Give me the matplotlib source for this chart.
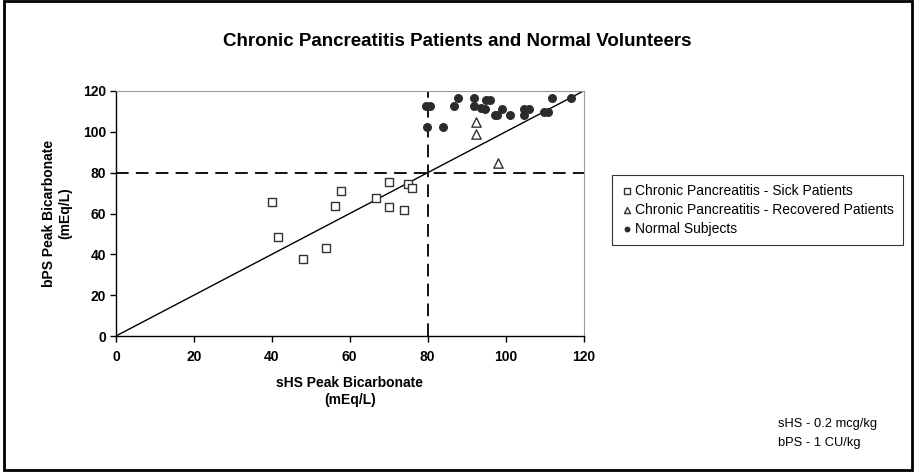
import matplotlib
matplotlib.use("Agg")
import matplotlib.pyplot as plt
from matplotlib.patches import Rectangle

plt.rcParams['font.family'] = ['Liberation Sans', 'DejaVu Sans']

# Chronic pancreatitis - sick patients
sick_x = [40.0, 41.7, 48.0, 54.0, 56.1, 57.8, 66.8, 70.0, 70.0, 73.9, 74.9, 76.0]
sick_y = [65.5, 48.6, 37.7, 42.9, 63.5, 71.2, 67.4, 75.6, 63.0, 61.6, 74.6, 72.6]

# Chronic pancreatitis - recovered patients
rec_x = [92.3, 92.3, 98.0]
rec_y = [105.0, 98.9, 84.9]

# Normal subjects
norm_x = [79.5, 80.5, 79.9, 83.9, 87.7, 86.8, 91.9, 91.9, 94.9, 95.9, 93.6, 94.7,
          97.3, 97.9, 99.0, 101.1, 104.7, 106.0, 104.7, 109.9, 111.0, 111.8, 116.7]
norm_y = [112.6, 112.6, 102.5, 102.5, 116.4, 112.6, 116.4, 112.6, 115.6, 115.6, 111.8, 111.2,
          108.2, 108.2, 111.2, 108.2, 111.2, 111.2, 108.2, 109.5, 109.5, 116.4, 116.4]

cutoff = 80
ticks = [0, 20, 40, 60, 80, 100, 120]

fig = plt.figure(figsize=(9.14, 4.74), dpi=100)
ax = fig.add_axes([116 / 914, 1 - 336 / 474, (583.5 - 116) / 914, (336 - 91) / 474])

ax.plot([0, 120], [0, 120], color='black', lw=1.0, zorder=2)
ax.plot([0, 120], [cutoff, cutoff], color='black', lw=1.3, dashes=(7, 4), zorder=2)
ax.plot([cutoff, cutoff], [0, 120], color='black', lw=1.3, dashes=(7, 4), zorder=2)

ax.scatter(sick_x, sick_y, marker='s', s=36, facecolor='white', edgecolor='#333333',
           linewidth=1.0, label='Chronic Pancreatitis - Sick Patients', zorder=3)
ax.scatter(rec_x, rec_y, marker='^', s=45, facecolor='white', edgecolor='#333333',
           linewidth=1.0, label='Chronic Pancreatitis - Recovered Patients', zorder=3)
ax.scatter(norm_x, norm_y, marker='o', s=42, color='#2b2b2b', linewidth=0,
           label='Normal Subjects', zorder=3)

ax.set_xlim(0, 120)
ax.set_ylim(0, 120)
ax.set_xticks(ticks)
ax.set_yticks(ticks)
ax.tick_params(direction='out', length=4, width=1, labelsize=10)
ax.tick_params(axis='x', pad=6)
ax.tick_params(axis='y', pad=3)
for lab in ax.get_xticklabels() + ax.get_yticklabels():
    lab.set_fontweight('bold')
ax.spines['left'].set_linewidth(1.0)
ax.spines['bottom'].set_linewidth(1.0)
ax.spines['top'].set_color('#999999')
ax.spines['right'].set_color('#999999')

ax.set_xlabel('sHS Peak Bicarbonate\n(mEq/L)', fontsize=10, fontweight='bold', labelpad=9)
ax.set_ylabel('bPS Peak Bicarbonate\n(mEq/L)', fontsize=10, fontweight='bold', labelpad=8)

fig.text(0.5, 1 - 42 / 474, 'Chronic Pancreatitis Patients and Normal Volunteers',
         ha='center', va='center', fontsize=13.5, fontweight='bold')

leg = fig.legend(loc='upper left', bbox_to_anchor=(612 / 914, 1 - 175 / 474),
                 borderaxespad=0, fontsize=10, frameon=True, fancybox=False,
                 edgecolor='black', handletextpad=0.1, handlelength=0.9,
                 borderpad=0.65, labelspacing=0.35, markerscale=0.65)
leg.get_frame().set_linewidth(0.8)

fig.text(778 / 914, 1 - 424 / 474, 'sHS - 0.2 mcg/kg', fontsize=9.3, va='center')
fig.text(778 / 914, 1 - 443 / 474, 'bPS - 1 CU/kg', fontsize=9.3, va='center')

fig.patches.append(Rectangle((4 / 914, 4 / 474), 908 / 914, 469 / 474, transform=fig.transFigure,
                             fill=False, edgecolor='black', linewidth=2, figure=fig))

fig.savefig('out.png', dpi=100)
